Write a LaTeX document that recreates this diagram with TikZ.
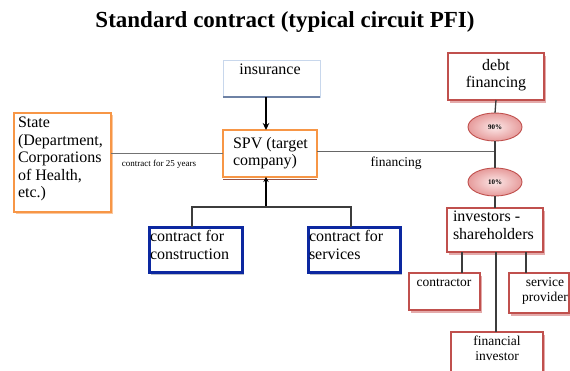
\documentclass[tikz,border=0pt]{standalone}
\usepackage{fontspec}
\setmainfont{Liberation Serif}
\usetikzlibrary{shadows,arrows.meta,shapes.geometric}
\definecolor{orangeB}{RGB}{247,150,70}
\definecolor{orangeS}{RGB}{250,200,160}
\definecolor{redB}{RGB}{192,80,77}
\definecolor{pinkS}{RGB}{228,170,170}
\definecolor{blueB}{RGB}{12,40,160}
\definecolor{greyS}{RGB}{185,190,200}
\definecolor{insB}{RGB}{200,215,236}
\definecolor{insS}{RGB}{110,130,165}
\definecolor{spvS}{RGB}{150,85,75}
\definecolor{lineC}{RGB}{60,60,60}
\definecolor{ellIn}{RGB}{252,232,232}
\definecolor{ellOut}{RGB}{230,155,155}
\begin{document}
\begin{tikzpicture}[x=1pt,y=-1pt,
  every node/.style={inner sep=0pt,outer sep=0pt},
  redbox/.style={draw=redB,line width=1.3pt,fill=white,
     drop shadow={shadow xshift=2pt,shadow yshift=-2.5pt,fill=pinkS,opacity=1}},
  orbox/.style={draw=orangeB,line width=1.2pt,fill=white},
  bluebox/.style={draw=blueB,line width=3pt,fill=white,
     drop shadow={shadow xshift=2pt,shadow yshift=-2.5pt,fill=greyS,opacity=1}},
  insbox/.style={draw=insB,line width=1pt,fill=white},
  pct/.style={ellipse,draw=redB,line width=0.9pt,inner color=ellIn,outer color=ellOut,
     minimum width=54pt,minimum height=28pt},
  bigtxt/.style={font=\fontsize{16}{17.5}\selectfont,text=black},
  smalltxt/.style={font=\fontsize{13.5}{15}\selectfont,text=black},
  thinln/.style={draw=lineC,line width=1.3pt},
  thickarr/.style={draw=black,line width=2.2pt}
]
\clip (0,0) rectangle (570,370);
\fill[white] (0,0) rectangle (570,370);

% title
\node[font=\fontsize{23}{26}\selectfont\bfseries] (title) at (285,22) {Standard contract (typical circuit PFI)};

% boxes
\node[insbox,minimum width=97pt,minimum height=37pt] (insurance) at (271.5,78.5) {};
\node[orbox,minimum width=94pt,minimum height=47pt] (spv) at (270,153.5) {};
\node[orbox,minimum width=97pt,minimum height=99pt,
      drop shadow={shadow xshift=1.5pt,shadow yshift=-1.5pt,fill=orangeS,opacity=1}] (state) at (62.5,162.5) {};
\node[bluebox,minimum width=93pt,minimum height=45pt] (construction) at (195.5,249.5) {};
\node[bluebox,minimum width=92pt,minimum height=45pt] (services) at (354,249.5) {};
\node[redbox,minimum width=96pt,minimum height=47pt] (debt) at (496,76.5) {};
\node[redbox,minimum width=96pt,minimum height=44pt] (investors) at (495,230) {};
\node[redbox,minimum width=71pt,minimum height=37pt] (contractor) at (444.5,291.5) {};
\node[redbox,minimum width=60pt,minimum height=40pt] (sprov) at (539,293) {};
\node[redbox,minimum width=92pt,minimum height=44pt] (finv) at (497,354) {};
\node[pct] (e90) at (495,127) {};
\node[pct] (e10) at (495,182) {};

% box decorations
\draw[insS,line width=1.6pt] (insurance.south west) -- (insurance.south east);
\draw[spvS,line width=1.6pt] ([yshift=-2.5pt]spv.south west) -- ([yshift=-2.5pt]spv.south east);

% texts
\node[bigtxt,anchor=north] (tins) at (270,64) {insurance};
\node[bigtxt,anchor=north west,align=left] (tspv) at (233,137) {SPV (target\\company)};
\node[bigtxt,anchor=north west,align=left] (tstate) at (18,117) {State\\(Department,\\Corporations\\of Health,\\etc.)};
\node[bigtxt,anchor=north west,align=left] (tcons) at (150,230.5) {contract for\\construction};
\node[bigtxt,anchor=north west,align=left] (tserv) at (309,230.5) {contract for\\services};
\node[bigtxt,anchor=north,align=center] (tdebt) at (496,59) {debt\\financing};
\node[bigtxt,anchor=north west,align=left] (tinv) at (453,211) {investors -\\shareholders};
\node[smalltxt,anchor=north] (tcontr) at (444,279) {contractor};
\node[smalltxt,anchor=north,align=center] (tsprov) at (545,278) {service\\provider};
\node[smalltxt,anchor=north,align=center] (tfinv) at (497,336) {financial\\investor};
\node[font=\fontsize{7}{8}\selectfont\bfseries] (t90) at (e90) {90\%};
\node[font=\fontsize{7}{8}\selectfont\bfseries] (t10) at (e10) {10\%};
\node[font=\fontsize{9}{10}\selectfont] (l25) at (159,164) {contract for 25 years};
\node[smalltxt] (lfin) at (396,163) {financing};

% connectors
\draw[thickarr,-{Stealth[length=7pt,width=6.5pt]}] ([xshift=-5.5pt]insurance.south) -- ([xshift=-4pt]spv.north);
\coordinate (j) at (266,207);
\draw[thickarr,-{Stealth[length=5pt,width=5.5pt]}] (j) -- (j |- spv.south);
\draw[thinln,line width=1.8pt] ([xshift=-3.5pt]construction.north) |- (j) -| ([xshift=-3pt]services.north);
\draw[thinln,draw=black!55] (state.east |- spv.west) -- (spv.west);
\draw[thinln,draw=black!60] ([yshift=2pt]spv.east) -- ([yshift=2pt]spv.east -| e90.south);
\draw[thinln] (debt.south) -- (e90.north);
\draw[thinln] (e90.south) -- (e10.north);
\draw[thinln] (e10.south) -- (investors.north);
\draw[thinln] ([xshift=-33pt]investors.south) -- ([xshift=-33pt]investors.south |- contractor.north);
\draw[thinln] ([xshift=1pt]investors.south) -- ([xshift=1pt]investors.south |- finv.north);
\draw[thinln] ([xshift=31pt]investors.south) -- ([xshift=31pt]investors.south |- sprov.north);
\end{tikzpicture}
\end{document}
